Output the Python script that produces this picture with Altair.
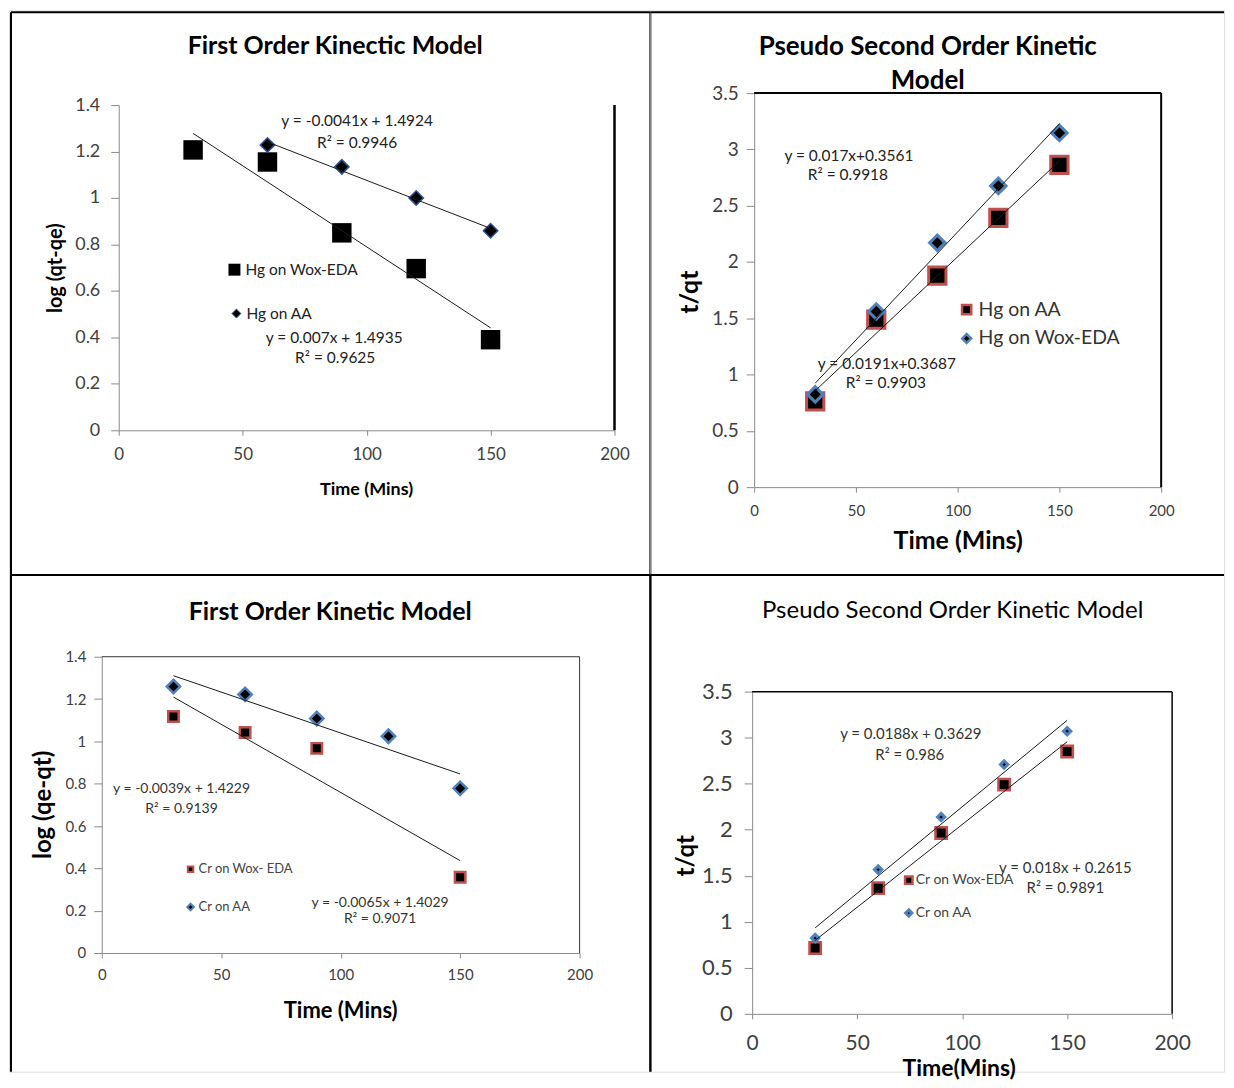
import altair as alt
import pandas as pd

FONT = "Lato"
BLUE = "#4F81BD"
NAVY = "#2F5597"
RED = "#C0504D"
TICK_COLOR = "#404040"
AXIS_GREY = "#8A8A8A"

# ---------------- data ----------------
time = [30, 60, 90, 120, 150]
time_from60 = [60, 90, 120, 150]
time_no120 = [30, 60, 90, 150]

hg_first_wox = [1.207, 1.155, 0.85, 0.696, 0.39]
hg_first_aa = [1.228, 1.134, 1.0, 0.859]
hg_second_aa = [0.762, 1.489, 1.878, 2.392, 2.862]
hg_second_wox = [0.824, 1.56, 2.17, 2.676, 3.146]
cr_first_wox = [1.118, 1.042, 0.967, 0.358]
cr_first_aa = [1.259, 1.222, 1.108, 1.024, 0.778]
cr_second_wox = [0.715, 1.365, 1.964, 2.49, 2.85]
cr_second_aa = [0.823, 1.567, 2.138, 2.708, 3.07]

x_ticks = [0, 50, 100, 150, 200]
y_ticks_first = [0, 0.2, 0.4, 0.6, 0.8, 1, 1.2, 1.4]
y_ticks_second = [0, 0.5, 1, 1.5, 2, 2.5, 3, 3.5]

eq_tl = ["y = -0.0041x + 1.4924", "R² = 0.9946", "y =  0.007x + 1.4935", "R² = 0.9625"]
eq_tr = ["y = 0.017x+0.3561", "R² = 0.9918", "y = 0.0191x+0.3687", "R² = 0.9903"]
eq_bl = ["y = -0.0039x + 1.4229", "R² = 0.9139", "y = -0.0065x + 1.4029", "R² = 0.9071"]
eq_br = ["y = 0.0188x + 0.3629", "R² = 0.986", "y = 0.018x + 0.2615", "R² = 0.9891"]


def text_layer(txt, x, y, size, weight="normal", color="black", align="center"):
    return alt.Chart(pd.DataFrame({"t": [txt]})).mark_text(
        font=FONT, fontSize=size, fontWeight=weight, color=color,
        align=align, baseline="middle").encode(
        x=alt.value(x), y=alt.value(y), text="t:N")


def hline(y, x0, x1, w=2, color="black"):
    return alt.Chart(pd.DataFrame({"t": [0]})).mark_rule(color=color, strokeWidth=w).encode(
        x=alt.value(x0), x2=alt.value(x1), y=alt.value(y))


def vline(x, y0, y1, w=2, color="black"):
    return alt.Chart(pd.DataFrame({"t": [0]})).mark_rule(color=color, strokeWidth=w).encode(
        x=alt.value(x), y=alt.value(y0), y2=alt.value(y1))


def legend_entry(name, shape, fill, stroke, size, sw, sx, sy, tx, fsize, color):
    sym = alt.Chart(pd.DataFrame({"t": [name]})).mark_point(
        filled=True, opacity=1, shape=shape, fill=fill, stroke=stroke,
        size=size, strokeWidth=sw).encode(x=alt.value(sx), y=alt.value(sy))
    lab = text_layer(name, tx, sy, fsize, "normal", color, align="left")
    return [sym, lab]


def build_panel(c):
    W, H = c["W"], c["H"]
    xr, yr = c["xr"], c["yr"]
    ymax = c["ymax"]
    xs = alt.Scale(domain=[0, 200], range=xr, nice=False, zero=False)
    ys = alt.Scale(domain=[0, ymax], range=yr, nice=False, zero=False)
    common = dict(grid=False, labelFont=FONT, labelColor=TICK_COLOR, domainColor=AXIS_GREY,
                  tickColor=AXIS_GREY, domainWidth=1, tickWidth=1,
                  labelFlush=False, labelOverlap=False, format="~r",
                  titleFont=FONT, titleFontWeight="bold", titleColor="black",
                  titleAlign="center", titleBaseline="middle")
    xaxis = alt.Axis(orient="bottom", offset=yr[0] - H, values=x_ticks, tickSize=5,
                     labelFontSize=c["xlab"], labelPadding=c["xpad"], title=c["xtitle"],
                     titleFontSize=c["xtsize"], titleX=c["xtx"], titleY=c["xty"], titleAngle=0,
                     **common)
    yaxis = alt.Axis(orient="left", offset=-xr[0], values=c["yvals"], tickSize=8,
                     labelFontSize=c["ylab"], labelPadding=c["ypad"], title=c["ytitle"],
                     titleFontSize=c["ytsize"], titleX=c["ytx"], titleY=c["yty"], titleAngle=270,
                     **common)

    rows = []
    for s in c["series"]:
        for t, v in zip(s["t"], s["v"]):
            rows.append({"time": t, "value": v, "series": s["name"]})
    df = pd.DataFrame(rows)
    names = [s["name"] for s in c["series"]]

    def sc(key):
        return alt.Scale(domain=names, range=[s[key] for s in c["series"]])

    pts = alt.Chart(df).mark_point(filled=True, opacity=1, fillOpacity=1).encode(
        x=alt.X("time:Q", scale=xs, axis=xaxis),
        y=alt.Y("value:Q", scale=ys, axis=yaxis),
        shape=alt.Shape("series:N", scale=sc("shape"), legend=None),
        fill=alt.Fill("series:N", scale=sc("fill"), legend=None),
        stroke=alt.Stroke("series:N", scale=sc("stroke"), legend=None),
        size=alt.Size("series:N", scale=sc("size"), legend=None),
        strokeWidth=alt.StrokeWidth("series:N", scale=sc("sw"), legend=None),
    )

    trend = alt.Chart(df).transform_regression(
        "time", "value", groupby=["series"]).mark_line(color="#1a1a1a", strokeWidth=1).encode(
        x=alt.X("time:Q", scale=xs, axis=xaxis),
        y=alt.Y("value:Q", scale=ys, axis=yaxis),
        detail="series:N")

    layers = [pts, trend]

    one = pd.DataFrame({"t": [0]})
    fc, fw = c["frame_color"], c["frame_width"]
    if c["frame_right"]:
        layers.append(alt.Chart(one).mark_rule(color=fc, strokeWidth=fw).encode(
            x=alt.X(datum=200, type="quantitative", scale=xs, axis=xaxis),
            y=alt.Y(datum=0, type="quantitative", scale=ys, axis=yaxis),
            y2=alt.Y2(datum=ymax)))
    if c["frame_top"]:
        layers.append(alt.Chart(one).mark_rule(color=fc, strokeWidth=fw).encode(
            x=alt.X(datum=0, type="quantitative", scale=xs, axis=xaxis),
            x2=alt.X2(datum=200),
            y=alt.Y(datum=ymax, type="quantitative", scale=ys, axis=yaxis)))

    # legend (key) entries
    lg = c["legend"]
    by_name = {s["name"]: s for s in c["series"]}
    for i, name in enumerate(c["legend_order"]):
        s = by_name[name]
        sx, sy, tx = lg["pos"][i]
        layers += legend_entry(name, s["shape"], s["fill"], s["stroke"], lg["sym"][i],
                               lg["sw"][i], sx, sy, tx, lg["size"], lg["color"])

    for (txt, x, y, size, weight, color) in c["texts"]:
        layers.append(text_layer(txt, x, y, size, weight, color))
    for b in c["borders"]:
        layers.append(b)

    return alt.layer(*layers).properties(width=W, height=H)


# ---------------- panels ----------------
tl = dict(
    W=643, H=566, xr=[110, 607], yr=[421, 95], ymax=1.4, yvals=y_ticks_first,
    xlab=17, xpad=11, xtitle="Time (Mins)", xtsize=18, xtx=358, xty=59,
    ylab=18, ypad=11, ytitle="log (qt-qe)", ytsize=20, ytx=-63, yty=258,
    series=[
        dict(name="Hg on Wox-EDA", t=time, v=hg_first_wox, shape="square", fill="black",
             stroke="black", size=380, sw=0),
        dict(name="Hg on AA", t=time_from60, v=hg_first_aa, shape="diamond", fill="black",
             stroke=NAVY, size=210, sw=1.5),
    ],
    legend_order=["Hg on Wox-EDA", "Hg on AA"],
    legend=dict(pos=[(226, 260, 237), (228, 304, 238)], sym=[144, 80], sw=[0, 1],
                size=15.5, color="#222222"),
    frame_right=True, frame_top=False, frame_color="black", frame_width=2.5,
    texts=[
        ("First Order Kinectic Model", 327, 36, 25, "bold", "black"),
        (eq_tl[0], 349, 111, 15.5, "normal", "#222222"),
        (eq_tl[1], 349, 133, 15.5, "normal", "#222222"),
        (eq_tl[2], 326, 328, 15.5, "normal", "#222222"),
        (eq_tl[3], 327, 349, 15.5, "normal", "#222222"),
    ],
    borders=[hline(2, 2, 643), vline(2, 2, 566), vline(643, 2, 566), hline(566, 2, 643)],
)

tr = dict(
    W=575, H=566, xr=[104, 512], yr=[478, 83], ymax=3.5, yvals=y_ticks_second,
    xlab=15, xpad=11, xtitle="Time (Mins)", xtsize=25, xtx=308, xty=54,
    ylab=19, ypad=8, ytitle="t/qt", ytsize=25, ytx=-65, yty=282,
    series=[
        dict(name="Hg on AA", t=time, v=hg_second_aa, shape="square", fill="black",
             stroke=RED, size=300, sw=3),
        dict(name="Hg on Wox-EDA", t=time, v=hg_second_wox, shape="diamond", fill="black",
             stroke=BLUE, size=240, sw=3),
    ],
    legend_order=["Hg on AA", "Hg on Wox-EDA"],
    legend=dict(pos=[(317, 300, 329), (317, 329, 329)], sym=[85, 80], sw=[2.5, 2.5],
                size=19.5, color="#333333"),
    frame_right=True, frame_top=True, frame_color="black", frame_width=2,
    texts=[
        ("Pseudo Second Order Kinetic", 278, 37, 26, "bold", "black"),
        ("Model", 278, 71, 26, "bold", "black"),
        (eq_tr[0], 199, 146, 15.5, "normal", "#222222"),
        (eq_tr[1], 198, 165, 15.5, "normal", "#222222"),
        (eq_tr[2], 237, 355, 15.5, "normal", "#222222"),
        (eq_tr[3], 236, 374, 15.5, "normal", "#222222"),
    ],
    borders=[hline(2, 0, 575), hline(566, 0, 575)],
)

bl = dict(
    W=643, H=498, xr=[93, 572], yr=[379, 82], ymax=1.4, yvals=y_ticks_first,
    xlab=15, xpad=10, xtitle="Time (Mins)", xtsize=22, xtx=332, xty=58,
    ylab=15, ypad=8, ytitle="log (qe-qt)", ytsize=24, ytx=-58, yty=230,
    series=[
        dict(name="Cr on Wox- EDA", t=time_no120, v=cr_first_wox, shape="square", fill="black",
             stroke=RED, size=110, sw=2.5),
        dict(name="Cr on AA", t=time, v=cr_first_aa, shape="diamond", fill="black",
             stroke=BLUE, size=180, sw=2.5),
    ],
    legend_order=["Cr on Wox- EDA", "Cr on AA"],
    legend=dict(pos=[(182, 295, 190), (182, 333, 190)], sym=[30, 45], sw=[2, 2],
                size=13, color="#444444"),
    frame_right=True, frame_top=True, frame_color="#333333", frame_width=1,
    texts=[
        ("First Order Kinetic Model", 322, 37, 25, "bold", "black"),
        (eq_bl[0], 173, 215, 14, "normal", "#333333"),
        (eq_bl[1], 173, 235, 14, "normal", "#333333"),
        (eq_bl[2], 372, 329, 14, "normal", "#333333"),
        (eq_bl[3], 372, 345, 14, "normal", "#333333"),
    ],
    borders=[vline(2, 0, 498), vline(643, 0, 498), hline(0, 2, 643)],
)

br = dict(
    W=575, H=498, xr=[102, 523], yr=[440, 117], ymax=3.5, yvals=y_ticks_second,
    xlab=21, xpad=14, xtitle="Time(Mins)", xtsize=23, xtx=309, xty=55,
    ylab=22, ypad=12, ytitle="t/qt", ytsize=24, ytx=-66, yty=281,
    series=[
        dict(name="Cr on Wox-EDA", t=time, v=cr_second_wox, shape="square", fill="black",
             stroke=RED, size=130, sw=2.5),
        dict(name="Cr on AA", t=time, v=cr_second_aa, shape="diamond", fill="black",
             stroke=BLUE, size=55, sw=3),
    ],
    legend_order=["Cr on Wox-EDA", "Cr on AA"],
    legend=dict(pos=[(259, 306, 266), (259, 339, 266)], sym=[55, 40], sw=[2.5, 3],
                size=14, color="#444444"),
    frame_right=True, frame_top=True, frame_color="black", frame_width=1.5,
    texts=[
        ("Pseudo Second Order Kinetic Model", 303, 36, 24, "normal", "black"),
        (eq_br[0], 261, 159, 15, "normal", "#333333"),
        (eq_br[1], 260, 181, 15, "normal", "#333333"),
        (eq_br[2], 416, 294, 15, "normal", "#333333"),
        (eq_br[3], 416, 314, 15, "normal", "#333333"),
    ],
    borders=[vline(0, 0, 498), hline(0, 0, 575)],
)

chart = alt.concat(
    build_panel(tl), build_panel(tr), build_panel(bl), build_panel(br),
    columns=2, spacing=0, bounds="flush",
).resolve_scale(
    shape="independent", fill="independent", stroke="independent",
    size="independent", strokeWidth="independent",
).properties(padding=0).configure_view(strokeWidth=0).configure(background="white")

chart.save("out.html", embed_options={"renderer": "svg", "actions": False})
